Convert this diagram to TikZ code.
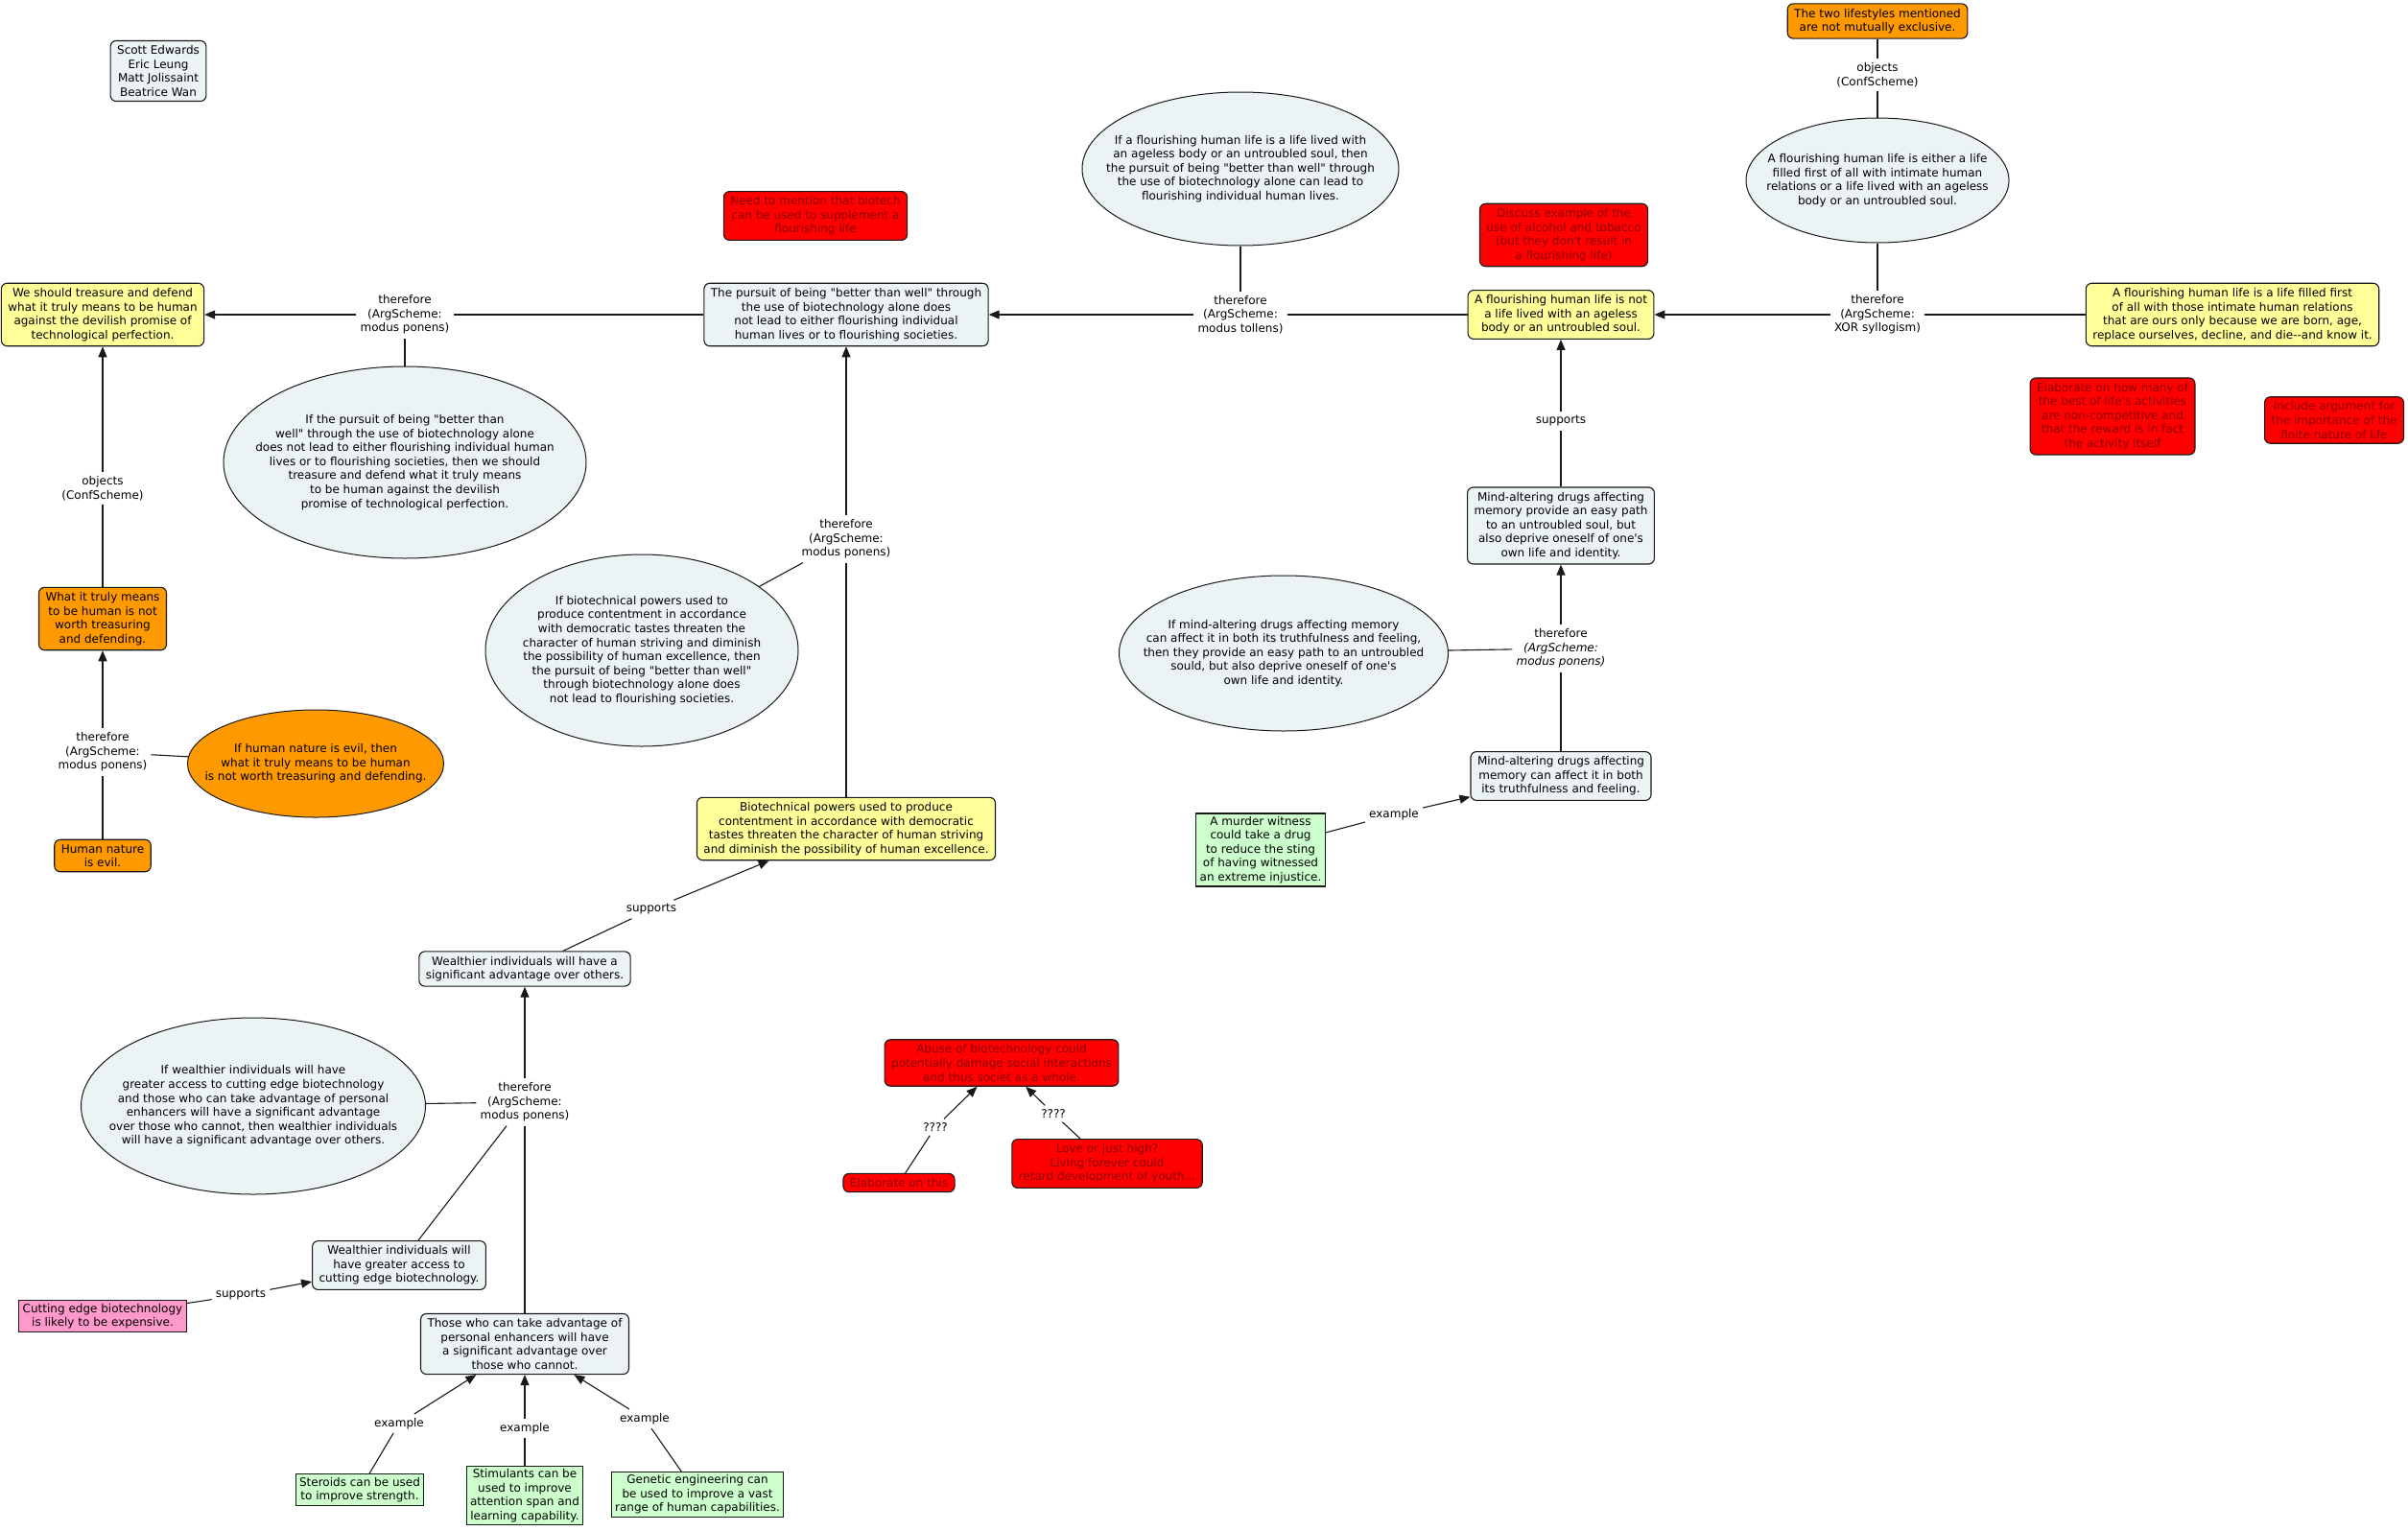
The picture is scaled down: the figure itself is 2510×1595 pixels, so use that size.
\documentclass[tikz,border=0pt]{standalone}
\usepackage{fontspec}
\setmainfont{DejaVu Sans}[Ligatures=TeXOff]
\usepackage{tikz}
\usetikzlibrary{arrows.meta,shapes.geometric}

\definecolor{propfill}{RGB}{236,243,245}
\definecolor{conclfill}{RGB}{255,255,153}
\definecolor{objfill}{RGB}{255,153,0}
\definecolor{todofill}{RGB}{255,0,0}
\definecolor{todotext}{RGB}{140,0,0}
\definecolor{exfill}{RGB}{204,255,204}
\definecolor{pinkfill}{RGB}{255,153,204}
\definecolor{edge}{RGB}{25,25,25}

\begin{document}
\begin{tikzpicture}[x=1pt,y=-1pt,>={Triangle[length=11pt,width=9pt]},
  every node/.style={font=\fontsize{12}{14.6}\selectfont,align=center},
  box/.style={draw=edge,line width=1.1pt,rounded corners=6pt,inner xsep=7pt,inner ysep=5pt},
  prop/.style={box,fill=propfill},
  concl/.style={box,fill=conclfill},
  obj/.style={box,fill=objfill},
  todo/.style={box,fill=todofill,text=todotext},
  exbox/.style={draw=edge,line width=1.1pt,fill=exfill,inner xsep=4pt,inner ysep=3pt},
  cause/.style={draw=edge,line width=1.1pt,fill=pinkfill,inner xsep=4pt,inner ysep=3pt},
  bubble/.style={ellipse,draw=edge,line width=1pt,fill=propfill,inner xsep=-60pt,inner ysep=-20pt},
  lbl/.style={inner sep=4pt},
  link/.style={line width=1.1pt,draw=edge}]
  \fill[white] (0,0) rectangle (2510,1595);
  \useasboundingbox (0,0) rectangle (2510,1595);

  \node[prop] (authors) at (165,74) {Scott Edwards\\Eric Leung\\Matt Jolissaint\\Beatrice Wan};

  \node[concl] (treasure) at (107,328) {We should treasure and defend\\what it truly means to be human\\against the devilish promise of\\technological perfection.};
  \node[lbl] (t1) at (422,328) {therefore\\(ArgScheme:\\modus ponens)};
  \node[bubble,minimum width=378pt,minimum height=200pt] (ifpursuit) at (422,482) {If the pursuit of being "better than\\well" through the use of biotechnology alone\\does not lead to either flourishing individual human\\lives or to flourishing societies, then we should\\treasure and defend what it truly means\\to be human against the devilish\\promise of technological perfection.};
  \node[prop] (pursuit) at (882,328) {The pursuit of being "better than well" through\\the use of biotechnology alone does\\not lead to either flourishing individual\\human lives or to flourishing societies.};
  \node[todo] (supplement) at (850,225) {Need to mention that biotech\\can be used to supplement a\\flourishing life};
  \node[bubble,minimum width=330pt,minimum height=160pt] (ifflourish) at (1293,176) {If a flourishing human life is a life lived with\\an ageless body or an untroubled soul, then\\the pursuit of being "better than well" through\\the use of biotechnology alone can lead to\\flourishing individual human lives.};
  \node[lbl] (t2) at (1293,328) {therefore\\(ArgScheme:\\modus tollens)};
  \node[todo] (alcohol) at (1630,245) {Discuss example of the\\use of alcohol and tobacco\\(but they don't result in\\a flourishing life)};
  \node[concl] (notflourish) at (1627,328) {A flourishing human life is not\\a life lived with an ageless\\body or an untroubled soul.};

  \node[obj] (twolife) at (1957,22) {The two lifestyles mentioned\\are not mutually exclusive.};
  \node[lbl] (o2) at (1957,78) {objects\\(ConfScheme)};
  \node[bubble,minimum width=274pt,minimum height=130pt] (either) at (1957,188) {A flourishing human life is either a life\\filled first of all with intimate human\\relations or a life lived with an ageless\\body or an untroubled soul.};
  \node[lbl] (t3) at (1957,328) {therefore\\(ArgScheme:\\XOR syllogism)};
  \node[concl] (filledfirst) at (2327,328) {A flourishing human life is a life filled first\\of all with those intimate human relations\\that are ours only because we are born, age,\\replace ourselves, decline, and die--and know it.};
  \node[todo] (elabmany) at (2202,434) {Elaborate on how many of\\the best of life's activities\\are non-competitive and\\that the reward is in fact\\the activity itself};
  \node[todo] (finite) at (2433,438) {Include argument for\\the importance of the\\finite nature of life};

  \node[lbl] (s1) at (1627,439) {supports};
  \node[prop] (mindprovide) at (1627,548) {Mind-altering drugs affecting\\memory provide an easy path\\to an untroubled soul, but\\also deprive oneself of one's\\own life and identity.};
  \node[lbl] (t4) at (1627,676) {therefore\\\textit{(ArgScheme:}\\\textit{modus ponens)}};
  \node[bubble,minimum width=343pt,minimum height=162pt] (ifmind) at (1338,681) {If mind-altering drugs affecting memory\\can affect it in both its truthfulness and feeling,\\then they provide an easy path to an untroubled\\sould, but also deprive oneself of one's\\own life and identity.};
  \node[prop] (mindaffect) at (1627,809) {Mind-altering drugs affecting\\memory can affect it in both\\its truthfulness and feeling.};
  \node[lbl] (e1) at (1453,849) {example};
  \node[exbox] (murder) at (1314,886) {A murder witness\\could take a drug\\to reduce the sting\\of having witnessed\\an extreme injustice.};

  \node[lbl] (o1) at (107,509) {objects\\(ConfScheme)};
  \node[obj] (whattruly) at (107,645) {What it truly means\\to be human is not\\worth treasuring\\and defending.};
  \node[lbl] (t5) at (107,784) {therefore\\(ArgScheme:\\modus ponens)};
  \node[bubble,fill=objfill,minimum width=267pt,minimum height=112pt] (ifevil) at (329,796) {If human nature is evil, then\\what it truly means to be human\\is not worth treasuring and defending.};
  \node[obj] (evil) at (107,892) {Human nature\\is evil.};

  \node[lbl] (t6) at (882,562) {therefore\\(ArgScheme:\\modus ponens)};
  \node[bubble,minimum width=326pt,minimum height=200pt] (ifbiotech) at (669,678) {If biotechnical powers used to\\produce contentment in accordance\\with democratic tastes threaten the\\character of human striving and diminish\\the possibility of human excellence, then\\the pursuit of being "better than well"\\through biotechnology alone does\\not lead to flourishing societies.};
  \node[concl] (biopowers) at (882,864) {Biotechnical powers used to produce\\contentment in accordance with democratic\\tastes threaten the character of human striving\\and diminish the possibility of human excellence.};
  \node[lbl] (s2) at (679,948) {supports};
  \node[prop] (wealthadv) at (547,1010) {Wealthier individuals will have a\\significant advantage over others.};
  \node[lbl] (t7) at (547,1149) {therefore\\(ArgScheme:\\modus ponens)};
  \node[bubble,minimum width=359pt,minimum height=184pt] (ifwealth) at (264,1153) {If wealthier individuals will have\\greater access to cutting edge biotechnology\\and those who can take advantage of personal\\enhancers will have a significant advantage\\over those who cannot, then wealthier individuals\\will have a significant advantage over others.};
  \node[prop] (access) at (416,1319) {Wealthier individuals will\\have greater access to\\cutting edge biotechnology.};
  \node[lbl] (s3) at (251,1350) {supports};
  \node[cause] (expensive) at (107,1372) {Cutting edge biotechnology\\is likely to be expensive.};
  \node[prop] (enhancers) at (547,1401) {Those who can take advantage of\\personal enhancers will have\\a significant advantage over\\those who cannot.};
  \node[lbl] (e2) at (416,1484) {example};
  \node[lbl] (e3) at (547,1489) {example};
  \node[lbl] (e4) at (672,1479) {example};
  \node[exbox] (steroids) at (375,1553) {Steroids can be used\\to improve strength.};
  \node[exbox] (stimulants) at (547,1559) {Stimulants can be\\used to improve\\attention span and\\learning capability.};
  \node[exbox] (genetic) at (727,1558) {Genetic engineering can\\be used to improve a vast\\range of human capabilities.};

  \node[todo] (abuse) at (1044,1108) {Abuse of biotechnology could\\potentially damage social interactions\\and thus societ as a whole.};
  \node[lbl] (q1) at (975,1175) {????};
  \node[lbl] (q2) at (1098,1161) {????};
  \node[todo] (elabthis) at (937,1233) {Elaborate on this};
  \node[todo] (love) at (1154,1213) {Love or just high?\\Living forever could\\retard development of youth...};

  \draw[link] (pursuit) -- (t1);
  \draw[link,->] (t1) -- (treasure);
  \draw[link] (ifpursuit) -- (t1);
  \draw[link] (notflourish) -- (t2);
  \draw[link,->] (t2) -- (pursuit);
  \draw[link] (ifflourish) -- (t2);
  \draw[link] (filledfirst) -- (t3);
  \draw[link,->] (t3) -- (notflourish);
  \draw[link] (either) -- (t3);
  \draw[link] (twolife) -- (o2);
  \draw[link] (o2) -- (either);
  \draw[link] (mindprovide) -- (s1);
  \draw[link,->] (s1) -- (notflourish);
  \draw[link] (mindaffect) -- (t4);
  \draw[link,->] (t4) -- (mindprovide);
  \draw[link] (ifmind) -- (t4);
  \draw[link] (murder) -- (e1);
  \draw[link,->] (e1) -- (mindaffect);
  \draw[link] (whattruly) -- (o1);
  \draw[link,->] (o1) -- (treasure);
  \draw[link] (evil) -- (t5);
  \draw[link,->] (t5) -- (whattruly);
  \draw[link] (ifevil) -- (t5);
  \draw[link] (biopowers) -- (t6);
  \draw[link,->] (t6) -- (pursuit);
  \draw[link] (ifbiotech) -- (t6);
  \draw[link] (wealthadv) -- (s2);
  \draw[link,->] (s2) -- (biopowers);
  \draw[link] (access) -- (t7);
  \draw[link] (enhancers) -- (t7);
  \draw[link,->] (t7) -- (wealthadv);
  \draw[link] (ifwealth) -- (t7);
  \draw[link] (expensive) -- (s3);
  \draw[link,->] (s3) -- (access);
  \draw[link] (steroids) -- (e2);
  \draw[link,->] (e2) -- (enhancers);
  \draw[link] (stimulants) -- (e3);
  \draw[link,->] (e3) -- (enhancers);
  \draw[link] (genetic) -- (e4);
  \draw[link,->] (e4) -- (enhancers);
  \draw[link] (elabthis) -- (q1);
  \draw[link,->] (q1) -- (abuse);
  \draw[link] (love) -- (q2);
  \draw[link,->] (q2) -- (abuse);
\end{tikzpicture}
\end{document}
